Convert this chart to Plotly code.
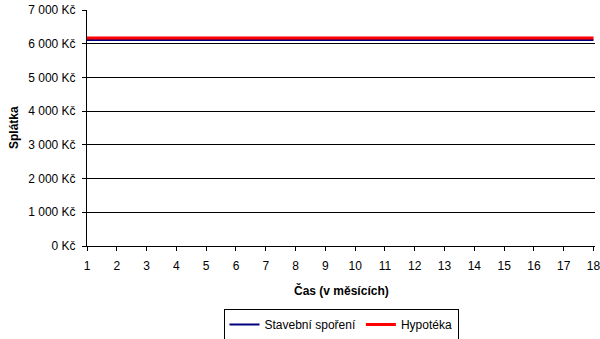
import plotly.graph_objects as go

months = list(range(1, 19))
stavebni = [6113] * 18
hypoteka = [6170] * 18
y_tickvals = [0, 1000, 2000, 3000, 4000, 5000, 6000, 7000]
y_ticktext = ["0 Kč", "1 000 Kč", "2 000 Kč", "3 000 Kč", "4 000 Kč", "5 000 Kč", "6 000 Kč", "7 000 Kč"]

fig = go.Figure()
fig.add_trace(go.Scatter(x=months, y=stavebni, mode="lines", name="Stavební spoření",
                         line=dict(color="#000080", width=2)))
fig.add_trace(go.Scatter(x=months, y=hypoteka, mode="lines", name="Hypotéka",
                         line=dict(color="#ff0000", width=3)))

font = "Liberation Sans, Arial, sans-serif"
fig.update_layout(
    width=600, height=339,
    margin=dict(l=87, r=5, t=10, b=93),
    paper_bgcolor="white", plot_bgcolor="white",
    font=dict(family=font, size=12, color="black"),
    showlegend=True,
    legend=dict(orientation="h", x=0.5, xanchor="center",
                yref="container", y=1 - 309 / 339, yanchor="top",
                bordercolor="black", borderwidth=1, font=dict(size=12),
                itemwidth=30, tracegroupgap=0),
    xaxis=dict(range=[1, 18.05], tickvals=months, ticktext=[str(m) for m in months],
               showgrid=False, zeroline=False, showline=True, linecolor="black", linewidth=1,
               ticks="outside", ticklen=4, tickcolor="black", automargin=False,
               ticklabelstandoff=5, ticklabeloverflow="allow"),
    yaxis=dict(range=[0, 7000], tickvals=y_tickvals, ticktext=y_ticktext,
               showgrid=True, gridcolor="black", gridwidth=1, zeroline=False,
               showline=True, linecolor="black", linewidth=1,
               ticks="outside", ticklen=4, tickcolor="black", automargin=False,
               ticklabelstandoff=4, ticklabeloverflow="allow"),
    annotations=[
        dict(text="<b>Čas (v měsících)</b>", xref="paper", yref="paper", x=0.5, y=-0.19,
             xanchor="center", yanchor="middle", showarrow=False, font=dict(size=12)),
        dict(text="<b>Splátka</b>", xref="paper", yref="paper", x=-0.1437, y=0.5,
             xanchor="center", yanchor="middle", showarrow=False, textangle=-90,
             font=dict(size=12)),
    ],
)
fig.write_html("out.html")
